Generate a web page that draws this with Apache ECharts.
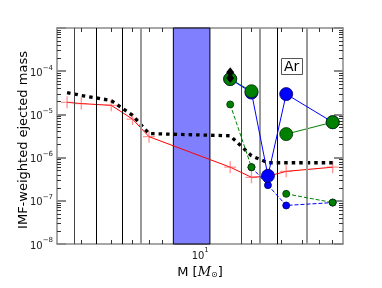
<!DOCTYPE html>
<html><head><meta charset="utf-8">
<script src="https://cdn.jsdelivr.net/npm/echarts@6/dist/echarts.min.js"></script>
<style>html,body{margin:0;padding:0;background:#fff}#c{width:382px;height:288px}</style>
</head><body><div id="c"></div>
<script>
// ---- data ----
const masses = [1.65, 2, 3, 4, 5, 15, 20, 25, 32, 60];
const redVals = [1.9e-5, 1.78e-5, 1.62e-5, 7.8e-6, 3.05e-6, 6.0e-7, 3.5e-7, 3.7e-7, 4.8e-7, 6.0e-7];
const blackDashVals = [3.2e-5, 2.75e-5, 2.1e-5, 9.5e-6, 3.6e-6, 3.2e-6, 1.1e-6, 7.6e-7, 7.6e-7, 7.6e-7];
const massiveMasses = [15, 20, 25, 32, 60];
const blueSolidVals = [6.6e-5, 3.2e-5, 3.8e-7, 2.95e-5, 6.6e-6];
const greenSolidVals = [6.6e-5, 3.45e-5, null, 3.5e-6, 6.6e-6];
const blueDashVals = [null, 6.0e-7, 2.3e-7, 7.8e-8, 9.1e-8];
const greenDashVals = [1.7e-5, 6.0e-7, null, 1.45e-7, 9.1e-8];
const diamondMasses = [15, 15];
const diamondVals = [9.5e-5, 7.0e-5];
const boundaryMasses = [1.82, 2.45, 3.46, 4.47, 17.3, 22.4, 28.3, 42.5];
const boundaryKinds = ['d', 'k', 'k', 'g', 'd', 'g', 'k', 'g'];
const bandRange = [6.95, 11.4];
const xMajorTicks = [10];
const xMinorTicks = [2, 3, 4, 5, 6, 7, 8, 9, 20, 30, 40, 50, 60];
const yMajorTicks = [1e-8, 1e-7, 1e-6, 1e-5, 1e-4, 1e-3];
const yLabelTicks = [1e-8, 1e-7, 1e-6, 1e-5, 1e-4];
const yDecades = [1e-8, 1e-7, 1e-6, 1e-5, 1e-4];
const yMinorMult = [2, 3, 4, 5, 6, 7, 8, 9];
const xRange = [1.44, 69];
const yRange = [1e-8, 1e-3];
const annotation = 'Ar';
const xName = 'M';
const yName = 'IMF-weighted ejected mass';

// ---- build ----
const yMinorTicks = [];
yDecades.forEach(d => yMinorMult.forEach(m => yMinorTicks.push(d * m)));
const pair = (xs, ys) => xs.map((x, i) => [x, ys[i]]);
const FONT = 'DejaVu Sans';
const FRAME = '#8a8a8a';
const plusSym = 'path://M0,4.45H10V5.55H0Z M4.45,0H5.55V10H4.45Z';
const supLabel = v => {
  const e = Math.round(Math.log10(v));
  return '{b|10}{s|' + String(e).replace('-', '\u2212') + '}';
};
const rich = {
  b: {fontSize: 10, fontFamily: FONT, color: '#222', lineHeight: 14, verticalAlign: 'bottom'},
  s: {fontSize: 7, fontFamily: FONT, color: '#222', lineHeight: 14, verticalAlign: 'top', padding: [0, 0, 0, 0]}
};

function xAx(pos, ticks, len, major, labels) {
  return {
    type: 'log', logBase: 10, position: pos, min: xRange[0], max: xRange[1],
    axisLine: {show: major, onZero: false, lineStyle: {color: FRAME, width: 1.5}},
    axisTick: {show: true, inside: true, customValues: ticks, length: len,
      lineStyle: {color: major ? FRAME : '#333', width: major ? 2 : 1}},
    axisLabel: labels ? {show: true, customValues: xMajorTicks, formatter: supLabel, rich: rich, margin: 3} : {show: false},
    splitLine: {show: false}, minorTick: {show: false}
  };
}
function yAx(pos, ticks, len, major, labels) {
  return {
    type: 'log', logBase: 10, position: pos, min: yRange[0], max: yRange[1],
    axisLine: {show: major, onZero: false, lineStyle: {color: FRAME, width: 1.5}},
    axisTick: {show: true, inside: true, customValues: ticks, length: len,
      lineStyle: {color: major ? FRAME : '#333', width: major ? 2 : 1}},
    axisLabel: labels ? {show: true, customValues: yLabelTicks, formatter: supLabel, rich: rich, margin: 4} : {show: false},
    splitLine: {show: false}, minorTick: {show: false}
  };
}

const xAxes = [xAx('bottom', xMajorTicks, 9, true, true), xAx('bottom', xMinorTicks, 4, false, false),
               xAx('top', xMajorTicks, 9, true, false), xAx('top', xMinorTicks, 4, false, false)];
xAxes[0].name = '{a|' + xName + ' [}{i|M}{u|\u2299}{a|]}';
xAxes[0].nameLocation = 'middle';
xAxes[0].nameGap = 14;
xAxes[0].nameTextStyle = {rich: {
  a: {fontSize: 13, fontFamily: FONT, color: '#000', lineHeight: 18, verticalAlign: 'bottom'},
  i: {fontSize: 13, fontFamily: 'DejaVu Serif', fontStyle: 'italic', color: '#000', lineHeight: 18, verticalAlign: 'bottom'},
  u: {fontSize: 8, fontFamily: FONT, color: '#000', lineHeight: 14, verticalAlign: 'bottom'}
}};
const yAxes = [yAx('left', yMajorTicks, 9, true, true), yAx('left', yMinorTicks, 4, false, false),
               yAx('right', yMajorTicks, 9, true, false), yAx('right', yMinorTicks, 4, false, false)];
yAxes[0].name = yName;
yAxes[0].nameLocation = 'middle';
yAxes[0].nameGap = 27;
yAxes[0].nameMoveOverlap = false;
yAxes[0].nameTextStyle = {fontSize: 13, fontFamily: FONT, color: '#000', padding: [0, 8, 0, 0]};

const boundaryStyle = {k: {color: '#000', width: 1}, d: {color: '#444', width: 1}, g: {color: '#999', width: 2}};

const series = [
  {type: 'line', data: [], z: 1, silent: true,
   markArea: {silent: true, itemStyle: {color: '#8080ff', borderColor: '#000', borderWidth: 1},
     data: [[{xAxis: bandRange[0]}, {xAxis: bandRange[1]}]]},
   markLine: {silent: true, symbol: ['none', 'none'], label: {show: false},
     data: boundaryMasses.map((m, i) => ({xAxis: m, lineStyle: Object.assign({type: 'solid'}, boundaryStyle[boundaryKinds[i]])}))}},
  {type: 'line', data: pair(masses, redVals), z: 2, symbol: plusSym, symbolSize: 12, symbolKeepAspect: true,
   lineStyle: {color: '#ff0000', width: 1}, itemStyle: {color: 'rgba(255,60,60,0.55)'}},
  {type: 'line', data: pair(masses, blackDashVals), z: 3, showSymbol: false, symbol: 'none',
   lineStyle: {color: '#000', width: 3.3, type: [3.5, 4]}},
  {type: 'line', data: pair(massiveMasses, greenSolidVals), z: 4, symbol: 'none', connectNulls: false,
   lineStyle: {color: '#008000', width: 1}},
  {type: 'line', data: pair(massiveMasses, blueDashVals), z: 5, symbol: 'circle', symbolSize: 7,
   lineStyle: {color: '#0000ff', width: 1, type: [4, 2]}, itemStyle: {color: '#0000ff', borderColor: '#000060', borderWidth: 0.8}},
  {type: 'line', data: pair(massiveMasses, greenDashVals), z: 6, symbol: 'circle', symbolSize: 7,
   lineStyle: {color: '#008000', width: 1, type: [4, 2]}, itemStyle: {color: '#008000', borderColor: '#003000', borderWidth: 0.8}},
  {type: 'line', data: pair(massiveMasses, blueSolidVals), z: 7, symbol: 'circle', symbolSize: 13,
   lineStyle: {color: '#0000ff', width: 1}, itemStyle: {color: '#0000ff', borderColor: '#000060', borderWidth: 0.8}},
  {type: 'scatter', data: pair(massiveMasses, greenSolidVals).filter(p => p[1] !== null), z: 8, symbol: 'circle', symbolSize: 13,
   itemStyle: {color: '#008000', borderColor: '#003000', borderWidth: 0.8, opacity: 1}},
  {type: 'scatter', data: pair(diamondMasses, diamondVals), z: 9, symbol: 'diamond', symbolSize: [8, 10],
   itemStyle: {color: '#000', opacity: 1}}
];

const chart = echarts.init(document.getElementById('c'), null, {renderer: 'canvas'});
chart.setOption({
  animation: false,
  backgroundColor: '#fff',
  grid: {left: 57, right: 39, top: 28, bottom: 44, containLabel: false},
  title: {text: annotation, left: 281, top: 58, padding: [2, 3, 1, 3], borderColor: '#555', borderWidth: 1,
    backgroundColor: '#fff', textStyle: {fontSize: 14, fontWeight: 'normal', color: '#000', fontFamily: FONT}},
  xAxis: xAxes,
  yAxis: yAxes,
  series: series
});
</script></body></html>
